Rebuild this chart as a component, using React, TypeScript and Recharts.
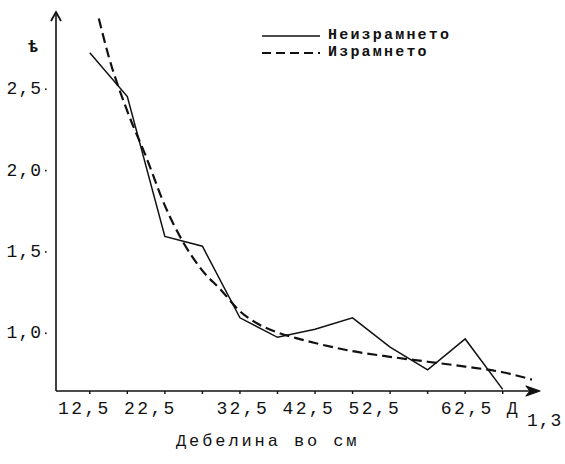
import React from "react";
import { Legend, Line, LineChart, XAxis, YAxis } from "recharts";

// Дебелина (cm) - неизрамнети вредности
const rawX = [12.5, 17.5, 22.5, 27.5, 32.5, 37.5, 42.5, 47.5, 52.5, 57.5, 62.5, 67.5];
const rawY = [2.72, 2.45, 1.59, 1.53, 1.09, 0.97, 1.02, 1.09, 0.91, 0.77, 0.96, 0.65];

// израмнета крива
const smoothX = [13.7, 15, 17.5, 20, 22.5, 25, 27.5, 30, 32.5, 35, 37.5, 40, 42.5, 47.5, 52.5, 57.5, 62.5, 67.5, 71.4];
const smoothY = [2.93, 2.7, 2.36, 2.08, 1.78, 1.55, 1.38, 1.26, 1.13, 1.05, 1.0, 0.965, 0.935, 0.885, 0.85, 0.82, 0.79, 0.755, 0.71];

const seriesNames = ["Неизрамнето", "Израмнето"];
const xTicks = [12.5, 17.5, 22.5, 27.5, 32.5, 37.5, 42.5, 47.5, 52.5, 57.5, 62.5, 67.5];
const xTickLabels = ["12,5", "22,5", "32,5", "42,5", "52,5", "62,5"];
const yTicks = [1.0, 1.5, 2.0, 2.5];
const yAxisSymbol = "ѣ";
const xAxisName = "Д";
const xAxisSub = "1,3";
const xAxisTitle = "Дебелина во см";

const rawData = rawX.map((x, i) => ({ x, y: rawY[i] }));
const smoothData = smoothX.map((x, i) => ({ x, y: smoothY[i] }));

const font = "'Liberation Mono', 'DejaVu Sans Mono', monospace";
const ink = "#111";

const W = 565;
const H = 464;
const M = { top: 12, right: 27, left: 56, bottom: 73 };

// typewriter spacing of the label row
const labelGaps = [1, 3, 1, 1, 3, 1];
const labelRow = xTickLabels.map((l, i) => l + " ".repeat(labelGaps[i])).join("") + xAxisName;

function NoTick() {
  return null;
}

function YTick({ x, y, payload }: any) {
  return (
    <g>
      <text x={x - 6} y={y} dy={6} textAnchor="end" fontFamily={font} fontSize={18} fill={ink} letterSpacing={1}>
        {payload.value.toFixed(1).replace(".", ",")}
      </text>
      <rect x={x - 3} y={y} width={1.6} height={1.6} fill={ink} />
    </g>
  );
}

function XLabels() {
  return (
    <g fontFamily={font}>
      <text x={58} y={414} fontSize={18} letterSpacing={2.4} fill={ink} style={{ whiteSpace: "pre" }}>
        {labelRow}
      </text>
      <text x={527} y={426} fontSize={18} letterSpacing={1} fill={ink}>
        {xAxisSub}
      </text>
      <text x={176} y={446} fontSize={17} letterSpacing={2.9} fill={ink}>
        {xAxisTitle}
      </text>
    </g>
  );
}

function YLabel() {
  return (
    <text x={28} y={52} fontFamily={font} fontSize={17} fontWeight={700} fill={ink}>
      {yAxisSymbol}
    </text>
  );
}

// arrow heads at the ends of both axes, drawn over the chart
function AxisArrows() {
  const yx = M.left;
  const yy = M.top;
  const xx = W - M.right;
  const xy = H - M.bottom;
  return (
    <svg width={W} height={H} style={{ position: "absolute", left: 0, top: 0, pointerEvents: "none", zIndex: 2 }}>
      <path d={`M${yx - 5},${yy + 9} L${yx},${yy} L${yx + 5},${yy + 9}`} fill="none" stroke={ink} strokeWidth={1.8} />
      <path
        d={`M${xx - 12},${xy - 5} L${xx + 2},${xy} L${xx - 12},${xy + 5} L${xx - 8},${xy} Z`}
        fill={ink}
        stroke={ink}
        strokeWidth={1.2}
        strokeLinejoin="round"
      />
    </svg>
  );
}

function LegendBox() {
  return (
    <div style={{ fontFamily: font, fontSize: 15, fontWeight: 700, letterSpacing: 2.2, color: ink, lineHeight: "17px" }}>
      {seriesNames.map((name, i) => (
        <div key={name} style={{ display: "flex", alignItems: "center", height: 17 }}>
          <svg width={60} height={8} style={{ marginRight: 6 }}>
            <line
              x1={0}
              x2={58}
              y1={4}
              y2={4}
              stroke={ink}
              strokeWidth={i === 0 ? 1.6 : 2}
              strokeDasharray={i === 0 ? undefined : "9 5"}
            />
          </svg>
          <span>{name}</span>
        </div>
      ))}
    </div>
  );
}

export default function App() {
  return (
    <div style={{ position: "absolute", left: 0, top: 0, width: W, height: H, background: "#fff" }}>
      <LineChart width={W} height={H} margin={{ top: M.top, right: M.right, bottom: 0, left: 0 }}>
        <XAxis
          type="number"
          dataKey="x"
          domain={[8, 72.2]}
          ticks={xTicks}
          allowDataOverflow
          height={M.bottom}
          tickSize={3}
          tickLine={{ stroke: ink, strokeWidth: 1.4 }}
          tick={<NoTick />}
          axisLine={{ stroke: ink, strokeWidth: 1.6 }}
          label={() => <XLabels />}
        />
        <YAxis
          type="number"
          domain={[0.64, 2.97]}
          ticks={yTicks}
          allowDataOverflow
          width={M.left}
          tickLine={false}
          tick={<YTick />}
          axisLine={{ stroke: ink, strokeWidth: 1.6 }}
          label={() => <YLabel />}
        />
        <Legend
          layout="vertical"
          verticalAlign="middle"
          align="center"
          content={<LegendBox />}
          wrapperStyle={{ left: 262, top: 27, width: 230 }}
        />
        <Line
          data={rawData}
          dataKey="y"
          name={seriesNames[0]}
          type="linear"
          stroke={ink}
          strokeWidth={1.5}
          dot={false}
          isAnimationActive={false}
        />
        <Line
          data={smoothData}
          dataKey="y"
          name={seriesNames[1]}
          type="monotone"
          stroke={ink}
          strokeWidth={2.2}
          strokeDasharray="10 5"
          dot={false}
          isAnimationActive={false}
        />
      </LineChart>
      <AxisArrows />
    </div>
  );
}
